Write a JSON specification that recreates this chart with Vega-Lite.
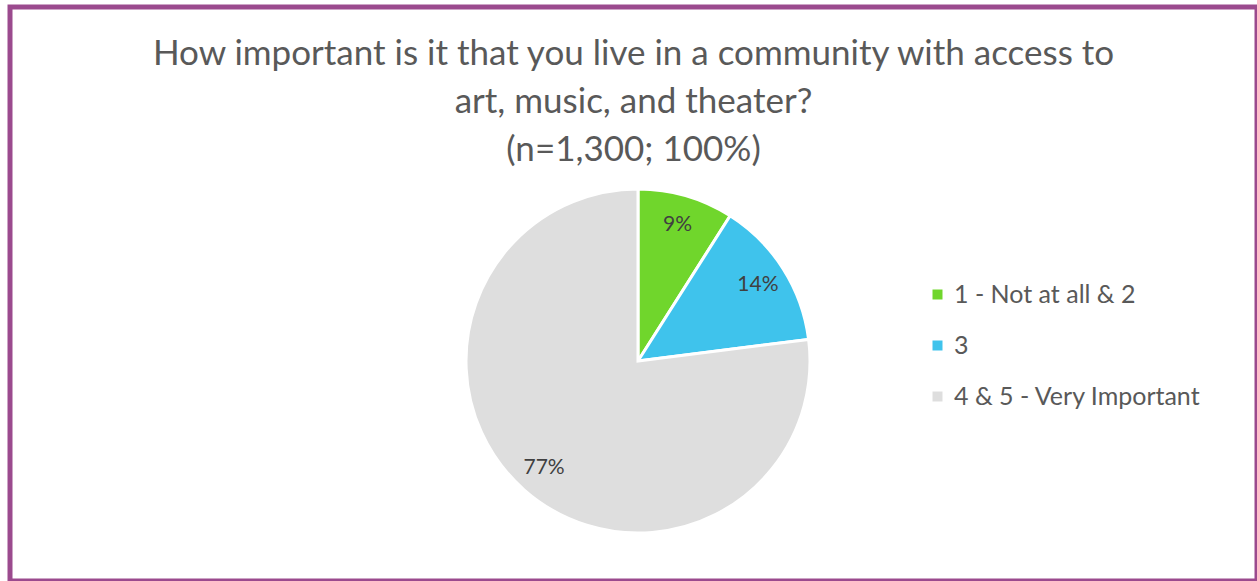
{
  "$schema": "https://vega.github.io/schema/vega-lite/v6.json",
  "width": 1257,
  "height": 581,
  "autosize": {"type": "fit", "contains": "padding"},
  "padding": {"left": 7, "top": 4, "right": -3, "bottom": -3},
  "background": "white",
  "config": {
    "view": {"stroke": null},
    "font": "Lato"
  },
  "title": {
    "text": ["How important is it that you live in a community with access to", "art, music, and theater?", "(n=1,300; 100%)"],
    "anchor": "middle",
    "frame": "group",
    "offset": -163,
    "fontSize": 35,
    "fontWeight": "normal",
    "color": "#595959",
    "lineHeight": 48,
    "font": "Lato"
  },
  "data": {
    "values": [
      {"category": "1 - Not at all & 2", "pct": 9, "label": "9%", "order": 1},
      {"category": "3", "pct": 14, "label": "14%", "order": 2},
      {"category": "4 & 5 - Very Important", "pct": 77, "label": "77%", "order": 3}
    ]
  },
  "layer": [
    {
      "data": {"values": [{"frame": "border"}]},
      "mark": {
        "type": "rect",
        "x": 0,
        "x2": "width",
        "y": 0,
        "y2": "height",
        "fill": "transparent",
        "stroke": "#9B4A8E",
        "strokeWidth": 5
      },
      "encoding": {}
    },
    {
      "mark": {
        "type": "arc",
        "outerRadius": 172,
        "stroke": "white",
        "strokeWidth": 3,
        "x": {"expr": "width/2+4.5"},
        "y": {"expr": "height/2+67"}
      },
      "encoding": {
        "theta": {"field": "pct", "type": "quantitative", "stack": true},
        "order": {"field": "order", "type": "quantitative"},
        "color": {
          "field": "category",
          "type": "nominal",
          "sort": ["1 - Not at all & 2", "3", "4 & 5 - Very Important"],
          "scale": {
            "domain": ["1 - Not at all & 2", "3", "4 & 5 - Very Important"],
            "range": ["#70D62C", "#3FC3EC", "#DEDEDE"]
          },
          "legend": {
            "title": null,
            "orient": "none",
            "legendX": 915,
            "legendY": 275,
            "symbolType": "square",
            "symbolSize": 100,
            "symbolStrokeWidth": 0,
            "labelFontSize": 25,
            "labelColor": "#595959",
            "labelFont": "Lato",
            "labelOffset": 4,
            "rowPadding": 25,
            "labelLimit": 400
          }
        }
      }
    },
    {
      "mark": {
        "type": "text",
        "radius": 142,
        "fontSize": 21,
        "font": "Lato",
        "color": "#404040",
        "x": {"expr": "width/2+4.5"},
        "y": {"expr": "height/2+67"}
      },
      "encoding": {
        "theta": {"field": "pct", "type": "quantitative", "stack": true},
        "order": {"field": "order", "type": "quantitative"},
        "text": {"field": "label", "type": "nominal"}
      }
    }
  ]
}
